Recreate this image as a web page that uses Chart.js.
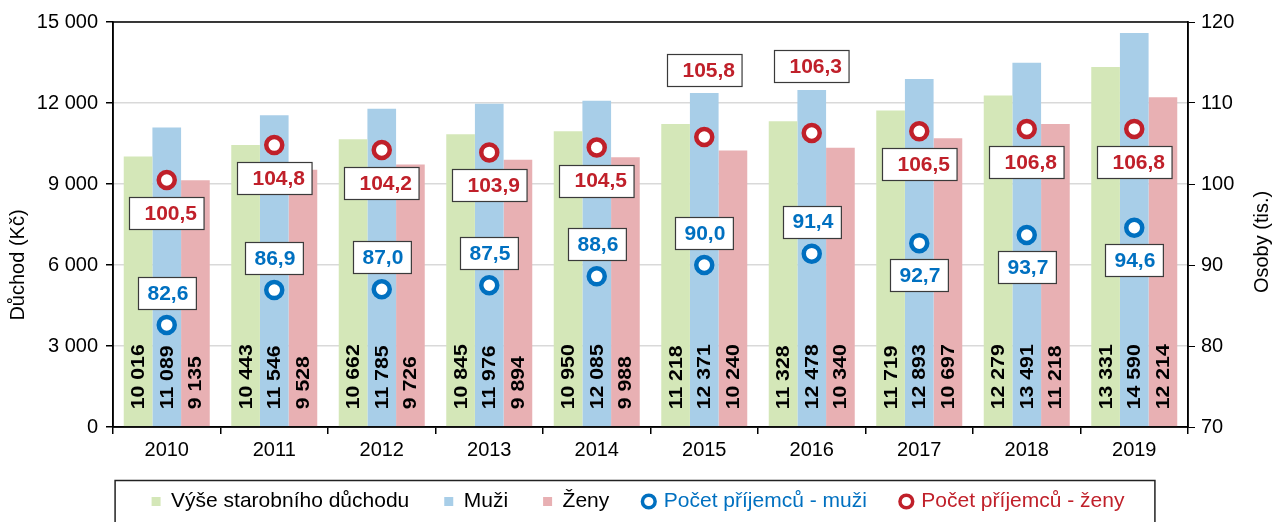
<!DOCTYPE html>
<html lang="cs">
<head>
<meta charset="utf-8">
<title>Starobní důchody 2010–2019</title>
<script src="https://cdn.jsdelivr.net/npm/chart.js@4.4.1/dist/chart.umd.min.js"></script>
<style>
  html, body { margin: 0; padding: 0; background: #fff; }
  #obal { width: 1276px; height: 522px; position: relative; }
</style>
</head>
<body>
<div id="obal"><canvas id="graf"></canvas></div>
<script>
let roky = ["2010", "2011", "2012", "2013", "2014", "2015", "2016", "2017", "2018", "2019"]

// průměrná výše důchodu v Kč
let vyseDuchodu = [10016, 10443, 10662, 10845, 10950, 11218, 11328, 11719, 12279, 13331]
let vyseMuzi    = [11089, 11546, 11785, 11976, 12085, 12371, 12478, 12893, 13491, 14590]
let vyseZeny    = [9135, 9528, 9726, 9894, 9988, 10240, 10340, 10697, 11218, 12214]

// počet příjemců v tisících
let prijemciMuzi = [82.6, 86.9, 87.0, 87.5, 88.6, 90.0, 91.4, 92.7, 93.7, 94.6]
let prijemciZeny = [100.5, 104.8, 104.2, 103.9, 104.5, 105.8, 106.3, 106.5, 106.8, 106.8]

// kam dát rámeček s hodnotou (nad / pod bod)
let polohaMuzi = ["nad", "nad", "nad", "nad", "nad", "nad", "nad", "pod", "pod", "pod"]
let polohaZeny = ["pod", "pod", "pod", "pod", "pod", "nad", "nad", "pod", "pod", "pod"]

const PISMO = '"Liberation Sans", Arial, Helvetica, sans-serif'
const ZELENA = "#d4e7b8"
const MODRA_SLOUPEC = "#a8cee8"
const RUZOVA = "#e8b0b3"
const MODRA = "#0070c0"
const CERVENA = "#c0202a"

Chart.defaults.font.family = PISMO
Chart.defaults.font.size = 20
Chart.defaults.color = "#000"

function tisice(v) {
    return String(v).replace(/\B(?=(\d{3})+(?!\d))/g, " ")
}
function desetinne(v) {
    return v.toFixed(1).replace(".", ",")
}

function stitek(ctx, x, y, txt, barva, padL, padR) {
    ctx.font = "bold 21px " + PISMO
    const w = ctx.measureText(txt).width
    const bw = w + padL + padR
    const bh = 32
    const left = Math.round(x - bw / 2) + 0.5
    const top = Math.round(y - bh / 2) + 0.5
    ctx.fillStyle = "#fff"
    ctx.fillRect(left, top, bw, bh)
    ctx.strokeStyle = "#3a3a3a"
    ctx.lineWidth = 1.2
    ctx.strokeRect(left, top, bw, bh)
    ctx.fillStyle = barva
    ctx.textAlign = "left"
    ctx.textBaseline = "middle"
    ctx.fillText(txt, left + padL, y + 1)
}

function nazevOsy(ctx, txt, x, y) {
    ctx.save()
    ctx.font = "20px " + PISMO
    ctx.fillStyle = "#000"
    ctx.textAlign = "center"
    ctx.textBaseline = "middle"
    ctx.translate(x, y)
    ctx.rotate(-Math.PI / 2)
    ctx.fillText(txt, 0, 0)
    ctx.restore()
}

const popisky = {
    id: "popisky",
    afterDatasetsDraw(chart) {
        const ctx = chart.ctx
        // svislé hodnoty ve sloupcích
        ;[0, 1, 2].forEach(di => {
            chart.getDatasetMeta(di).data.forEach((bar, i) => {
                const txt = tisice(chart.data.datasets[di].data[i])
                ctx.save()
                ctx.translate(bar.x, bar.base - 17)
                ctx.rotate(-Math.PI / 2)
                ctx.scale(1.18, 1)
                ctx.font = "bold 18px " + PISMO
                ctx.fillStyle = "#000"
                ctx.textAlign = "left"
                ctx.textBaseline = "middle"
                ctx.fillText(txt, 0, 1)
                ctx.restore()
            })
        })
        // rámečky u bodů
        ctx.save()
        chart.getDatasetMeta(3).data.forEach((pt, i) => {
            const dy = polohaMuzi[i] === "nad" ? -32 : 32
            stitek(ctx, pt.x, pt.y + dy, desetinne(prijemciMuzi[i]), MODRA, 9, 8)
        })
        chart.getDatasetMeta(4).data.forEach((pt, i) => {
            const dy = polohaZeny[i] === "nad" ? -67 : 33
            stitek(ctx, pt.x, pt.y + dy, desetinne(prijemciZeny[i]), CERVENA, 15, 7)
        })
        ctx.restore()
    },
    afterDraw(chart) {
        const ctx = chart.ctx
        const a = chart.chartArea
        ctx.save()
        // rám kolem plochy grafu
        ctx.strokeStyle = "#000"
        ctx.lineWidth = 1.5
        ctx.strokeRect(a.left, a.top, a.right - a.left, a.bottom - a.top)
        ctx.restore()

        // názvy os (obě čtené zdola nahoru)
        nazevOsy(ctx, "Důchod (Kč)", 18, 265)
        nazevOsy(ctx, "Osoby (tis.)", 1262, 242)

        // rámeček legendy
        const hb = chart.legend.legendHitBoxes
        if (hb && hb.length) {
            const l = hb[0].left - 37
            const r = hb[hb.length - 1].left + hb[hb.length - 1].width + 30
            ctx.save()
            ctx.strokeStyle = "#222"
            ctx.lineWidth = 1.5
            ctx.strokeRect(l + 0.5, 480.5, r - l, 60)
            ctx.restore()
        }
    }
}

const barvyLegendy = ["#000", "#000", "#000", MODRA, CERVENA]

new Chart(document.getElementById("graf"), {
    type: "bar",
    data: {
        labels: roky,
        datasets: [{
            label: "Výše starobního důchodu",
            data: vyseDuchodu,
            backgroundColor: ZELENA,
            yAxisID: "y",
            order: 1
        }, {
            label: "Muži",
            data: vyseMuzi,
            backgroundColor: MODRA_SLOUPEC,
            yAxisID: "y",
            order: 1
        }, {
            label: "Ženy",
            data: vyseZeny,
            backgroundColor: RUZOVA,
            yAxisID: "y",
            order: 1
        }, {
            type: "line",
            label: "Počet příjemců - muži",
            data: prijemciMuzi,
            yAxisID: "y2",
            showLine: false,
            pointRadius: 8,
            pointBorderWidth: 4.5,
            pointBackgroundColor: "#fff",
            pointBorderColor: MODRA,
            backgroundColor: "#fff",
            borderColor: MODRA,
            order: 0
        }, {
            type: "line",
            label: "Počet příjemců - ženy",
            data: prijemciZeny,
            yAxisID: "y2",
            showLine: false,
            pointRadius: 8,
            pointBorderWidth: 4.5,
            pointBackgroundColor: "#fff",
            pointBorderColor: CERVENA,
            backgroundColor: "#fff",
            borderColor: CERVENA,
            order: 0
        }]
    },
    options: {
        responsive: true,
        maintainAspectRatio: false,
        animation: false,
        datasets: {
            bar: { categoryPercentage: 0.8, barPercentage: 1.0 }
        },
        layout: { padding: { top: 22, left: 0, right: 0, bottom: 0 } },
        plugins: {
            tooltip: { enabled: false },
            legend: {
                display: true,
                position: "bottom",
                labels: {
                    usePointStyle: true,
                    boxWidth: 9,
                    boxHeight: 9,
                    padding: 35,
                    font: { size: 21 },
                    sort: (a, b) => a.datasetIndex - b.datasetIndex,
                    generateLabels: (chart) => {
                        const items = Chart.defaults.plugins.legend.labels.generateLabels(chart)
                        items.forEach(it => {
                            const i = it.datasetIndex
                            it.fontColor = barvyLegendy[i]
                            if (i < 3) {
                                it.pointStyle = "rect"
                                it.lineWidth = 0
                                it.strokeStyle = it.fillStyle
                            } else {
                                it.pointStyle = "circle"
                                it.fillStyle = "#fff"
                                it.lineWidth = 3.5
                            }
                        })
                        return items
                    }
                }
            }
        },
        scales: {
            x: {
                grid: { display: true, drawOnChartArea: false, offset: true, tickLength: 7, color: "#000", lineWidth: 1.5 },
                border: { color: "#000", width: 1.5 },
                ticks: { color: "#000", font: { size: 20 }, padding: 4 },
                afterFit(s) { s.height = 29 }
            },
            y: {
                position: "left",
                min: 0,
                max: 15000,
                ticks: { stepSize: 3000, padding: 8, color: "#000", font: { size: 20 }, callback: v => tisice(v) },
                grid: { color: "#d9d9d9", lineWidth: 1.5, tickColor: "#000", tickLength: 7 },
                border: { color: "#000", width: 1.5 },
                afterFit(s) { s.width = 113 }
            },
            y2: {
                position: "right",
                min: 70,
                max: 120,
                ticks: { stepSize: 10, padding: 6, color: "#000", font: { size: 20 } },
                grid: { drawOnChartArea: false, color: "#000", tickColor: "#000", tickLength: 7 },
                border: { color: "#000", width: 1.5 },
                afterFit(s) { s.width = 88 }
            }
        }
    },
    plugins: [popisky]
})
</script>
</body>
</html>
